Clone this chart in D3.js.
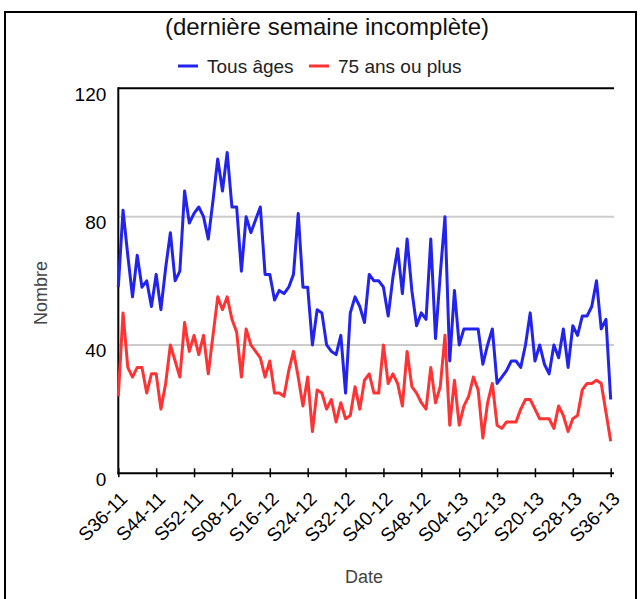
<!DOCTYPE html>
<html>
<head>
<meta charset="utf-8">
<script src="https://cdn.jsdelivr.net/npm/d3@7"></script>
<style>
  body { margin: 0; background: #fff; }
  text { font-family: Arial, "Liberation Sans", sans-serif; }
</style>
</head>
<body>
<svg id="chart"></svg>
<script>
// Tick labels, one every 8 weeks
const tickLabels = ["S36-11", "S44-11", "S52-11", "S08-12", "S16-12", "S24-12", "S32-12",
    "S40-12", "S48-12", "S04-13", "S12-13", "S20-13", "S28-13", "S36-13"];

// Weekly counts, S36-11 .. S36-13 (105 weeks)
const tousAges = [58, 82, 68, 55, 68, 58, 60, 52, 62, 51, 64, 75, 60, 63, 88, 78, 81, 83, 80, 73,
    85, 98, 88, 100, 83, 83, 63, 80, 75, 79, 83, 62, 62, 54, 57, 56, 58, 62, 81, 58,
    58, 40, 51, 50, 40, 38, 37, 43, 25, 50, 55, 52, 47, 62, 60, 60, 58, 49, 61, 70,
    56, 73, 57, 46, 50, 48, 73, 42, 62, 80, 35, 57, 40, 45, 45, 45, 45, 34, 40, 45,
    28, 30, 32, 35, 35, 33, 40, 50, 35, 40, 34, 31, 40, 36, 45, 33, 46, 43, 49, 49,
    52, 60, 45, 48, 23];
const plus75 = [24, 50, 33, 30, 33, 33, 25, 31, 31, 20, 28, 40, 35, 30, 47, 38, 43, 37, 43, 31,
    43, 55, 51, 55, 48, 44, 30, 45, 40, 38, 36, 30, 35, 25, 25, 24, 32, 38, 30, 21,
    30, 13, 26, 25, 20, 23, 16, 22, 17, 18, 27, 20, 29, 31, 25, 25, 40, 28, 31, 28,
    21, 38, 27, 25, 22, 20, 33, 22, 27, 43, 15, 29, 15, 21, 24, 30, 26, 11, 22, 28,
    15, 14, 16, 16, 16, 20, 23, 23, 20, 17, 17, 17, 14, 21, 18, 13, 17, 18, 26, 28,
    28, 29, 28, 19, 10];
const yTicks = [0, 40, 80, 120];

const series = [
    { name: "Tous âges", values: tousAges, color: "#2323ee" },
    { name: "75 ans ou plus", values: plus75, color: "#ff3333" }
];

const W = 642, H = 599;
const svg = d3.select("#chart").attr("width", W).attr("height", H);

// outer frame
svg.append("rect")
    .attr("x", 5).attr("y", 12)
    .attr("width", 631).attr("height", 620)
    .attr("fill", "none").attr("stroke", "#000").attr("stroke-width", 2);

const x = d3.scaleLinear().domain([0, tousAges.length - 1]).range([118.3, 610.7]);
const y = d3.scaleLinear().domain([0, 120]).range([473.3, 88.3]);
const xEnd = 614;

// subtitle
svg.append("text")
    .attr("x", 327).attr("y", 35)
    .attr("text-anchor", "middle")
    .attr("font-size", 24)
    .attr("fill", "#111")
    .text("(dernière semaine incomplète)");

// legend
const legendPos = [178, 309];
series.forEach((s, k) => {
    const lx = legendPos[k];
    svg.append("line")
        .attr("x1", lx).attr("x2", lx + 20)
        .attr("y1", 66).attr("y2", 66)
        .attr("stroke", s.color).attr("stroke-width", 3);
    svg.append("text")
        .attr("x", lx + 29).attr("y", 66)
        .attr("dy", "0.35em")
        .attr("font-size", 19)
        .attr("fill", "#222")
        .text(s.name);
});

// gridlines
svg.append("g")
    .selectAll("line")
    .data(yTicks.filter(d => d > 0 && d < 120))
    .join("line")
    .attr("x1", x(0)).attr("x2", xEnd)
    .attr("y1", d => y(d)).attr("y2", d => y(d))
    .attr("stroke", "#cccccc").attr("stroke-width", 2);

// top frame of plot
svg.append("line")
    .attr("x1", x(0)).attr("x2", xEnd)
    .attr("y1", y(120)).attr("y2", y(120))
    .attr("stroke", "#000").attr("stroke-width", 2);

// Y axis
const yAxisGroup = svg.append("g")
    .attr("transform", `translate(${x(0)},0)`)
    .call(d3.axisLeft(y).tickValues(yTicks).tickSize(0).tickPadding(12));
yAxisGroup.select(".domain").remove();
yAxisGroup.selectAll("text")
    .attr("dy", "0.62em")
    .attr("font-size", 19)
    .attr("fill", "#000")
    .style("font-family", "Arial, 'Liberation Sans', sans-serif");
svg.append("line")
    .attr("x1", x(0)).attr("x2", x(0))
    .attr("y1", y(120) - 1).attr("y2", y(0) + 1)
    .attr("stroke", "#000").attr("stroke-width", 2);

// lines
const line = d3.line()
    .x((d, i) => x(i))
    .y(d => y(d));

svg.append("g")
    .selectAll("path")
    .data(series)
    .join("path")
    .attr("d", d => line(d.values))
    .attr("fill", "none")
    .attr("stroke", d => d.color)
    .attr("stroke-width", 3)
    .attr("stroke-linejoin", "round");

// X axis
const xAxisGroup = svg.append("g")
    .attr("transform", `translate(0,${y(0)})`)
    .call(d3.axisBottom(x)
        .tickValues(tickLabels.map((d, i) => i * 8))
        .tickFormat(d => tickLabels[d / 8]));
xAxisGroup.select(".domain").remove();
xAxisGroup.selectAll(".tick line")
    .attr("y1", -5).attr("y2", 4)
    .attr("stroke", "#000").attr("stroke-width", 1.5);
xAxisGroup.selectAll("text")
    .attr("x", 0).attr("y", 0).attr("dy", "0.35em")
    .attr("transform", "translate(5,22) rotate(-45)")
    .style("text-anchor", "end")
    .style("font-family", "Arial, 'Liberation Sans', sans-serif")
    .attr("font-size", 19)
    .attr("fill", "#000");
svg.append("line")
    .attr("x1", x(0) - 1).attr("x2", xEnd)
    .attr("y1", y(0)).attr("y2", y(0))
    .attr("stroke", "#000").attr("stroke-width", 2);

// axis titles
svg.append("text")
    .attr("x", 364).attr("y", 577)
    .attr("dy", "0.35em")
    .attr("text-anchor", "middle")
    .attr("font-size", 18)
    .attr("fill", "#444")
    .text("Date");

svg.append("text")
    .attr("transform", "translate(41,293) rotate(-90)")
    .attr("dy", "0.35em")
    .attr("text-anchor", "middle")
    .attr("font-size", 18)
    .attr("fill", "#444")
    .text("Nombre");
</script>
</body>
</html>
